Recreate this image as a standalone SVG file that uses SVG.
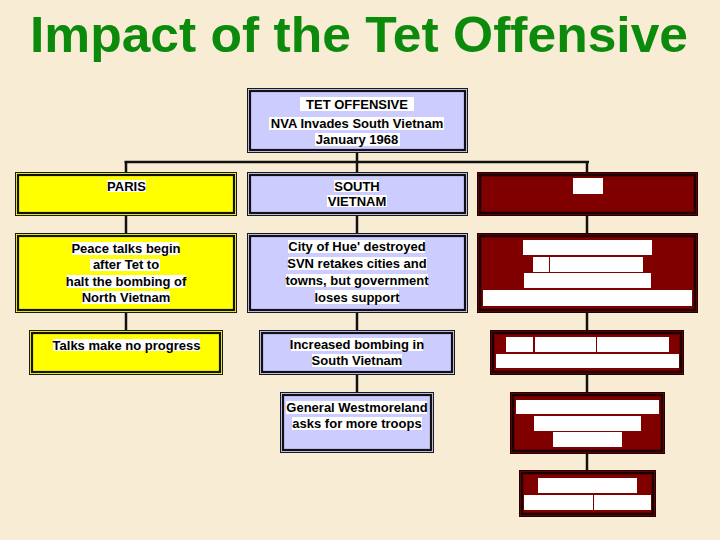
<svg xmlns="http://www.w3.org/2000/svg" width="720" height="540" viewBox="0 0 720 540">
<style>
.t{font-family:"Liberation Sans",Arial,sans-serif;font-size:13px;font-weight:bold;fill:#000;text-anchor:middle}
.hl{fill:#fff}
.bo{stroke:#1a1a1a;stroke-width:1}
.bi{fill:none;stroke:#111;stroke-width:2.2}
.blue{fill:#ccccff}
.yel{fill:#ffff00}
.red{fill:#800000}
.ro{stroke:#200000;stroke-width:1}
.ri{fill:none;stroke:#1a0000;stroke-width:2.6}
.c{stroke:#111;stroke-width:2.5;fill:none}
</style>
<rect width="720" height="540" fill="#f8ecd4"/>
<text x="30" y="52" font-family="Liberation Sans,Arial,sans-serif" font-weight="bold" font-size="50" fill="#0b8a0b" textLength="658" lengthAdjust="spacingAndGlyphs">Impact of the Tet Offensive</text>

<g id="connectors">
<line class="c" x1="124.5" y1="162" x2="589" y2="162" stroke-width="4"/>
<line class="c" x1="126" y1="162" x2="126" y2="172"/>
<line class="c" x1="126" y1="216" x2="126" y2="233"/>
<line class="c" x1="126" y1="313" x2="126" y2="330"/>
<line class="c" x1="357" y1="153" x2="357" y2="172"/>
<line class="c" x1="357" y1="216" x2="357" y2="233"/>
<line class="c" x1="357" y1="313" x2="357" y2="330"/>
<line class="c" x1="357" y1="375" x2="357" y2="392"/>
<line class="c" x1="587" y1="162" x2="587" y2="172"/>
<line class="c" x1="587" y1="216" x2="587" y2="233"/>
<line class="c" x1="587" y1="313" x2="587" y2="330"/>
<line class="c" x1="587" y1="375" x2="587" y2="392"/>
<line class="c" x1="587" y1="454" x2="587" y2="470"/>
</g>

<g id="tet">
<rect class="blue bo" x="247.5" y="88.5" width="220" height="64"/>
<rect class="bi" x="250" y="91" width="215" height="59"/>
<rect class="hl" x="300" y="97" width="114" height="14"/>
<rect class="hl" x="269" y="117" width="175" height="13"/>
<rect class="hl" x="315" y="133" width="85" height="13"/>
<text class="t" x="357" y="108.5" font-size="14">TET OFFENSIVE</text>
<text class="t" x="357" y="127.5">NVA Invades South Vietnam</text>
<text class="t" x="357" y="144">January 1968</text>
</g>

<g id="paris">
<rect class="yel bo" x="15.5" y="172.5" width="221" height="43"/>
<rect class="bi" x="18" y="175" width="216" height="38"/>
<rect class="hl" x="107" y="180" width="39" height="12"/>
<text class="t" x="126.5" y="190.5">PARIS</text>
</g>

<g id="south">
<rect class="blue bo" x="247.5" y="172.5" width="220" height="43"/>
<rect class="bi" x="250" y="175" width="215" height="38"/>
<rect class="hl" x="334" y="180" width="45" height="12"/>
<rect class="hl" x="327" y="195" width="60" height="12"/>
<text class="t" x="357" y="190.5">SOUTH</text>
<text class="t" x="357" y="205.5">VIETNAM</text>
</g>

<g id="red1">
<rect class="red ro" x="477.5" y="172.5" width="220" height="43"/>
<rect class="ri" x="480" y="175" width="215" height="38"/>
<rect class="hl" x="573" y="178" width="30" height="16"/>
</g>

<g id="peace">
<rect class="yel bo" x="15.5" y="233.5" width="221" height="79"/>
<rect class="bi" x="18" y="236" width="216" height="74"/>
<rect class="hl" x="72" y="242" width="107" height="13"/>
<rect class="hl" x="90" y="259" width="70" height="12"/>
<rect class="hl" x="67" y="275" width="118" height="13"/>
<rect class="hl" x="82" y="291" width="88" height="13"/>
<text class="t" x="126" y="252.5">Peace talks begin</text>
<text class="t" x="126" y="269">after Tet to</text>
<text class="t" x="126" y="285.5">halt the bombing of</text>
<text class="t" x="126" y="302">North Vietnam</text>
</g>

<g id="city">
<rect class="blue bo" x="247.5" y="233.5" width="220" height="79"/>
<rect class="bi" x="250" y="236" width="215" height="74"/>
<rect class="hl" x="288" y="240" width="137" height="13"/>
<rect class="hl" x="288" y="257" width="139" height="13"/>
<rect class="hl" x="286" y="274" width="142" height="13"/>
<rect class="hl" x="315" y="290" width="84" height="14"/>
<text class="t" x="357" y="251">City of Hue' destroyed</text>
<text class="t" x="357" y="268">SVN retakes cities and</text>
<text class="t" x="357" y="285">towns, but government</text>
<text class="t" x="357" y="301.5">loses support</text>
</g>

<g id="red2">
<rect class="red ro" x="477.5" y="233.5" width="220" height="79"/>
<rect class="ri" x="480" y="236" width="215" height="74"/>
<rect class="hl" x="523" y="240" width="129" height="15"/>
<rect class="hl" x="533" y="257" width="16" height="15"/>
<rect class="hl" x="550" y="257" width="93" height="15"/>
<rect class="hl" x="524" y="273" width="127" height="15"/>
<rect class="hl" x="483" y="290" width="209" height="16"/>
</g>

<g id="talks">
<rect class="yel bo" x="29.5" y="330.5" width="193" height="44"/>
<rect class="bi" x="32" y="333" width="188" height="39" stroke-width="3"/>
<rect class="hl" x="53" y="339" width="147" height="12"/>
<text class="t" x="126.5" y="349.5">Talks make no progress</text>
</g>

<g id="increased">
<rect class="blue bo" x="259.5" y="330.5" width="195" height="44"/>
<rect class="bi" x="262" y="333" width="190" height="39" stroke-width="2.6"/>
<rect class="hl" x="291" y="338" width="132" height="13"/>
<rect class="hl" x="312" y="354" width="90" height="13"/>
<text class="t" x="357" y="348.5">Increased bombing in</text>
<text class="t" x="357" y="364.5">South Vietnam</text>
</g>

<g id="red3">
<rect class="red ro" x="490.5" y="330.5" width="193" height="44"/>
<rect class="ri" x="493" y="333" width="188" height="39" stroke-width="3"/>
<rect class="hl" x="506" y="337" width="27" height="15"/>
<rect class="hl" x="535" y="337" width="61" height="15"/>
<rect class="hl" x="597" y="337" width="72" height="15"/>
<rect class="hl" x="496" y="354" width="183" height="14"/>
</g>

<g id="general">
<rect class="blue bo" x="280.5" y="392.5" width="153" height="60"/>
<rect class="bi" x="283" y="395" width="148" height="55" stroke-width="2.6"/>
<rect class="hl" x="286" y="401" width="141" height="13"/>
<rect class="hl" x="292" y="417" width="130" height="13"/>
<text class="t" x="357" y="411.5">General Westmoreland</text>
<text class="t" x="357" y="427.5">asks for more troops</text>
</g>

<g id="red4">
<rect class="red ro" x="510.5" y="392.5" width="154" height="61"/>
<rect class="ri" x="513" y="395" width="149" height="56"/>
<rect class="hl" x="516" y="400" width="143" height="14"/>
<rect class="hl" x="534" y="416" width="107" height="15"/>
<rect class="hl" x="553" y="432" width="69" height="15"/>
</g>

<g id="red5">
<rect class="red ro" x="519.5" y="470.5" width="136" height="46"/>
<rect class="ri" x="522" y="473" width="131" height="41"/>
<rect class="hl" x="538" y="478" width="99" height="15"/>
<rect class="hl" x="524" y="495" width="69" height="15"/>
<rect class="hl" x="594" y="495" width="57" height="15"/>
</g>
</svg>
